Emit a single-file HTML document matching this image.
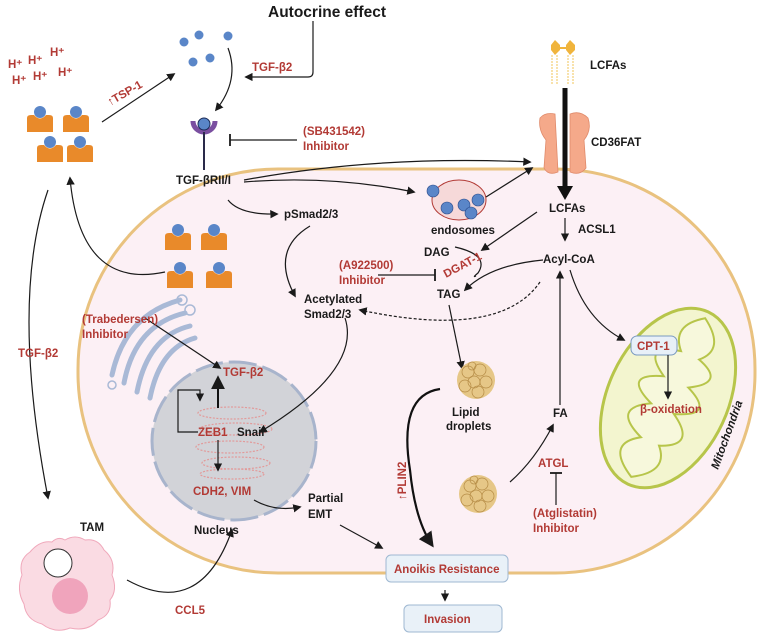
<!DOCTYPE html>
<html><head><meta charset="utf-8"><style>
html,body{margin:0;padding:0;background:#fff;}
svg{display:block;font-family:"Liberation Sans",sans-serif;}
.t{font-size:11.5px;font-weight:bold;fill:#1a1a1a;}
.r{font-size:11.5px;font-weight:bold;fill:#b23a35;}
.a{fill:none;stroke:#1a1a1a;stroke-width:1.2;}
</style></head><body>
<svg width="767" height="636" viewBox="0 0 767 636" xmlns="http://www.w3.org/2000/svg">
<defs>
<marker id="m" viewBox="0 0 10 10" refX="8" refY="5" markerWidth="7" markerHeight="7" orient="auto"><path d="M0,0L10,5L0,10z" fill="#1a1a1a"/></marker>
<marker id="bar" viewBox="0 0 4 10" refX="2" refY="5" markerWidth="4" markerHeight="10" orient="auto"><path d="M2,0V10" stroke="#1a1a1a" stroke-width="1.5"/></marker>
<g id="cell"><circle cx="0" cy="-10" r="6" fill="#5a86c8"/><path d="M-13,-4 Q-13,-7 -9,-7 L-6,-7 Q0,0 6,-7 L9,-7 Q13,-7 13,-4 L13,10 L-13,10Z" fill="#e98a2a"/></g>
<g id="lip"><circle r="19" fill="#e6c787"/><g fill="none" stroke="#b58b45" stroke-width="0.7"><circle cx="-8" cy="-8" r="6"/><circle cx="4" cy="-10" r="6"/><circle cx="10" cy="2" r="6"/><circle cx="-2" cy="2" r="6"/><circle cx="-11" cy="6" r="6"/><circle cx="2" cy="12" r="6"/><circle cx="-4" cy="-14" r="4"/></g></g>
</defs>
<!-- cell -->
<rect x="78" y="169" width="677" height="404" rx="200" ry="200" fill="#fcf0f5" stroke="#e9c27f" stroke-width="3"/>
<!-- golgi -->
<g fill="none" stroke="#a9b9d6" stroke-width="5" stroke-linecap="round">
<path d="M180,300 Q125,315 112,375"/><path d="M185,313 Q135,325 124,383"/><path d="M190,326 Q148,336 137,392"/><path d="M195,338 Q160,348 150,398"/>
</g>
<g fill="none" stroke="#a9b9d6" stroke-width="1.5"><circle cx="182" cy="300" r="5"/><circle cx="190" cy="310" r="5"/><circle cx="112" cy="385" r="4"/></g>
<!-- nucleus -->
<ellipse cx="234" cy="441" rx="82" ry="79" fill="#d2d3d8" stroke="#a8b4cc" stroke-width="3" stroke-dasharray="28 6"/>
<g fill="none" stroke="#e29a9a" stroke-width="1.2" stroke-dasharray="2 1.5">
<ellipse cx="232" cy="413" rx="34" ry="6"/><ellipse cx="236" cy="429" rx="36" ry="6"/><ellipse cx="230" cy="447" rx="34" ry="6"/><ellipse cx="236" cy="463" rx="34" ry="6"/><ellipse cx="232" cy="474" rx="32" ry="5"/>
</g>
<!-- mitochondria -->
<g transform="rotate(25 668 398)">
<ellipse cx="668" cy="398" rx="60" ry="95" fill="#f3f5cf" stroke="#b7c54a" stroke-width="3"/>
<path d="M668,310 Q640,330 660,350 Q620,360 655,380 Q615,395 655,410 Q620,430 660,445 Q630,465 668,485 Q700,465 680,445 Q715,430 680,410 Q720,395 682,380 Q715,360 680,350 Q700,330 668,310Z" fill="#f7f8dc" stroke="#b7c54a" stroke-width="2"/>
</g>
<!-- H+ -->
<g class="r" font-size="11"><text x="8" y="68">H⁺</text><text x="28" y="64">H⁺</text><text x="50" y="56">H⁺</text><text x="12" y="84">H⁺</text><text x="33" y="80">H⁺</text><text x="58" y="76">H⁺</text></g>
<!-- outer cells -->
<use href="#cell" x="40" y="122"/><use href="#cell" x="76" y="122"/><use href="#cell" x="50" y="152"/><use href="#cell" x="80" y="152"/>
<use href="#cell" x="178" y="240"/><use href="#cell" x="214" y="240"/><use href="#cell" x="180" y="278"/><use href="#cell" x="219" y="278"/>
<!-- TGF dots -->
<g fill="#5a86c8"><circle cx="184" cy="42" r="4.5"/><circle cx="199" cy="35" r="4.5"/><circle cx="228" cy="36" r="4.5"/><circle cx="193" cy="62" r="4.5"/><circle cx="210" cy="58" r="4.5"/></g>
<text x="268" y="17" font-size="15.5" font-weight="bold" fill="#1a1a1a">Autocrine effect</text>
<path class="a" d="M313,21V72Q313,77 308,77H246" marker-end="url(#m)"/>
<text class="r" x="252" y="71">TGF-β2</text>
<path class="a" d="M228,48Q240,80 216,110" marker-end="url(#m)"/>
<path class="a" d="M102,122L174,74" marker-end="url(#m)"/>
<text class="r" transform="translate(110,106) rotate(-30)">↑TSP-1</text>
<!-- receptor -->
<path d="M193,121 A11,11 0 0 0 215,121" fill="none" stroke="#7a4fa0" stroke-width="5"/>
<circle cx="204" cy="124" r="6" fill="#5a86c8" stroke="#1a2a55" stroke-width="1"/>
<line x1="204" y1="132" x2="204" y2="170" stroke="#2a2a4a" stroke-width="2"/>
<path class="a" d="M297,140H230" marker-end="url(#bar)"/>
<text class="r" x="303" y="135">(SB431542)</text><text class="r" x="303" y="150">Inhibitor</text>
<text class="t" x="176" y="184">TGF-βRII/I</text>
<path class="a" d="M244,180Q380,155 530,162" marker-end="url(#m)"/>
<path class="a" d="M244,182Q330,175 414,192" marker-end="url(#m)"/>
<path class="a" d="M228,200Q240,215 277,214" marker-end="url(#m)"/>
<text class="t" x="284" y="218">pSmad2/3</text>
<path class="a" d="M310,226Q270,250 295,296" marker-end="url(#m)"/>
<text class="t" x="304" y="303">Acetylated</text><text class="t" x="304" y="318">Smad2/3</text>
<path class="a" d="M345,318Q362,370 260,432" marker-end="url(#m)"/>
<!-- back arrows -->
<path class="a" d="M165,272Q80,290 70,178" marker-end="url(#m)"/>
<path class="a" d="M48,190Q10,300 48,498" marker-end="url(#m)"/>
<text class="r" x="18" y="357">TGF-β2</text>
<!-- endosomes -->
<ellipse cx="459" cy="200" rx="27" ry="20" fill="#f6d9d9" stroke="#b23a35" stroke-width="1"/>
<g fill="#5a86c8" stroke="#2a4a8a" stroke-width="0.6"><circle cx="433" cy="191" r="6"/><circle cx="447" cy="208" r="6"/><circle cx="464" cy="205" r="6"/><circle cx="478" cy="200" r="6"/><circle cx="471" cy="213" r="6"/></g>
<text class="t" x="431" y="234">endosomes</text>
<path class="a" d="M486,197L532,168" marker-end="url(#m)"/>
<!-- LCFAs top -->
<g fill="#f0b43c"><polygon points="551,45 555,40 560,45 560,50 555,55 551,50"/><polygon points="566,45 570,40 575,45 575,50 570,55 566,50"/></g>
<line x1="560" y1="48" x2="566" y2="48" stroke="#f0b43c" stroke-width="2"/>
<g fill="none" stroke="#f0c45a" stroke-width="1" stroke-dasharray="2 1"><path d="M552,55V85"/><path d="M557,55V85"/><path d="M568,55V85"/><path d="M573,55V85"/></g>
<text class="t" x="590" y="69">LCFAs</text>
<!-- CD36 -->
<g fill="#f5a98a" stroke="#e08a6a" stroke-width="0.8">
<path d="M540,118Q545,112 555,114L558,172Q548,176 544,168L546,140Q538,130 540,118Z"/>
<path d="M570,114Q580,110 588,118Q592,130 584,140L586,168Q580,176 570,172Z"/>
</g>
<text class="t" x="591" y="146">CD36FAT</text>
<line x1="565" y1="88" x2="565" y2="188" stroke="#111" stroke-width="5"/>
<polygon points="557,186 573,186 565,200" fill="#111"/>
<text class="t" x="549" y="212">LCFAs</text>
<path class="a" d="M565,218V240" marker-end="url(#m)"/>
<text class="t" x="578" y="233">ACSL1</text>
<text class="t" x="543" y="263">Acyl-CoA</text>
<path class="a" d="M537,212L482,250" marker-end="url(#m)"/>
<text class="t" x="424" y="256">DAG</text>
<path class="a" d="M455,247Q490,255 478,273Q472,278 476,276" />
<path class="a" d="M543,260Q490,265 465,290" marker-end="url(#m)"/>
<text class="r" font-size="8.5" transform="translate(446,278) rotate(-28)">DGAT-1</text>
<path class="a" d="M378,275H435" marker-end="url(#bar)"/>
<text class="r" x="339" y="269">(A922500)</text><text class="r" x="339" y="284">Inhibitor</text>
<text class="t" x="437" y="298">TAG</text>
<path class="a" d="M449,305L462,368" marker-end="url(#m)"/>
<path class="a" d="M540,282Q500,340 360,310" stroke-dasharray="3 2" marker-end="url(#m)"/>
<!-- mito arrows -->
<path class="a" d="M570,270Q585,320 624,340" marker-end="url(#m)"/>
<rect x="631" y="336" width="46" height="19" rx="6" fill="#e8f0f8" stroke="#7a9ac0"/>
<text class="r" x="637" y="350">CPT-1</text>
<path class="a" d="M668,355V398" marker-end="url(#m)"/>
<text class="r" x="640" y="413">β-oxidation</text>
<text class="t" font-style="italic" transform="translate(718,470) rotate(-70)">Mitochondria</text>
<!-- lipid droplets -->
<use href="#lip" x="476" y="380"/>
<text class="t" x="452" y="416">Lipid</text><text class="t" x="446" y="430">droplets</text>
<use href="#lip" x="478" y="494"/>
<path class="a" d="M510,482Q535,460 553,425" marker-end="url(#m)"/>
<text class="t" x="553" y="417">FA</text>
<path class="a" d="M560,405V272" marker-end="url(#m)"/>
<text class="r" font-size="10" x="538" y="467">ATGL</text>
<path class="a" d="M556,505V473" marker-end="url(#bar)"/>
<text class="r" x="533" y="517">(Atglistatin)</text><text class="r" x="533" y="532">Inhibitor</text>
<path d="M440,389Q398,395 410,470Q415,520 432,545" fill="none" stroke="#111" stroke-width="2.2" marker-end="url(#m)"/>
<text class="r" transform="translate(406,500) rotate(-90)">↑PLIN2</text>
<!-- nucleus contents -->
<path class="a" d="M145,318L220,368" marker-end="url(#m)"/>
<text class="r" x="82" y="323">(Trabedersen)</text><text class="r" x="82" y="338">Inhibitor</text>
<text class="r" x="223" y="376">TGF-β2</text>
<path d="M218,408V378" stroke="#111" stroke-width="2" marker-end="url(#m)"/>
<path class="a" d="M198,432H178V390H200V400" marker-end="url(#m)"/>
<text class="r" x="198" y="436">ZEB1</text><text class="t" x="237" y="436">Snail</text>
<path class="a" d="M218,440V470" marker-end="url(#m)"/>
<text class="r" x="193" y="495">CDH2, VIM</text>
<path class="a" d="M254,500Q275,512 300,507" marker-end="url(#m)"/>
<text class="t" x="308" y="502">Partial</text><text class="t" x="308" y="518">EMT</text>
<path class="a" d="M340,525L382,548" marker-end="url(#m)"/>
<text class="t" x="194" y="534">Nucleus</text>
<!-- TAM -->
<text class="t" x="80" y="531">TAM</text>
<path d="M65,540Q75,534 85,540Q98,538 104,550Q116,560 112,575Q118,590 110,600Q112,615 98,620Q88,632 70,628Q55,634 42,624Q26,620 24,604Q16,590 22,575Q18,560 30,552Q40,540 52,542Q58,536 65,540Z" fill="#fadbe3" stroke="#f0a8bb" stroke-width="1"/>
<circle cx="58" cy="563" r="14" fill="#fff" stroke="#333" stroke-width="1"/>
<circle cx="70" cy="596" r="18" fill="#f0a4bc"/>
<path class="a" d="M127,580Q200,620 232,530" marker-end="url(#m)"/>
<text class="r" x="175" y="614">CCL5</text>
<!-- boxes -->
<rect x="386" y="555" width="122" height="27" rx="5" fill="#e9f1f8" stroke="#9fb8d2"/>
<text class="r" x="394" y="573">Anoikis Resistance</text>
<path class="a" d="M445,590V600" marker-end="url(#m)"/>
<rect x="404" y="605" width="98" height="27" rx="5" fill="#e9f1f8" stroke="#9fb8d2"/>
<text class="r" x="424" y="623">Invasion</text>
</svg>
</body></html>
